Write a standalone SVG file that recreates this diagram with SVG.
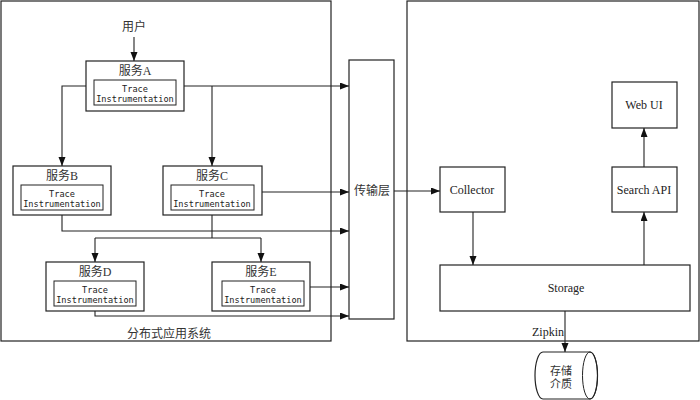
<svg xmlns="http://www.w3.org/2000/svg" width="700" height="400" viewBox="0 0 700 400">
<style>
.box{fill:#fff;stroke:#222;stroke-width:1.2}
.inner{fill:none;stroke:#222;stroke-width:1}
.cn{font-family:"Liberation Serif","Noto Sans CJK SC",serif;font-size:12px;fill:#333;text-anchor:middle}
.en{font-family:"Liberation Serif",serif;font-size:12px;fill:#222;text-anchor:middle}
.mono{font-family:"DejaVu Sans Mono","Liberation Mono",monospace;font-size:8.6px;fill:#222;text-anchor:middle}
.ln{fill:none;stroke:#222;stroke-width:1.1}
</style>
<defs>
<marker id="arr" markerUnits="userSpaceOnUse" markerWidth="10" markerHeight="8" refX="9" refY="3.5" orient="auto">
<path d="M0,0 L9,3.5 L0,7 z" fill="#111"/>
</marker>
</defs>
<rect width="700" height="400" fill="#fff"/>

<g id="distributed-system">
<rect class="box" x="1" y="1" width="330" height="340"/>
<text class="cn" x="169" y="338">分布式应用系统</text>
</g>
<g id="zipkin">
<rect class="box" x="407" y="1" width="292" height="340"/>
</g>

<g id="user"><text class="cn" x="134" y="31">用户</text></g>

<g id="serviceA">
<rect class="box" x="86" y="61" width="98" height="50"/>
<text class="cn" x="135" y="75">服务A</text>
<rect class="inner" x="94" y="80" width="82" height="25"/>
<text class="mono" x="135" y="92">Trace</text>
<text class="mono" x="135" y="102">Instrumentation</text>
</g>
<g id="serviceB">
<rect class="box" x="13" y="166" width="98" height="49"/>
<text class="cn" x="62" y="180">服务B</text>
<rect class="inner" x="21" y="185" width="82" height="25"/>
<text class="mono" x="62" y="197">Trace</text>
<text class="mono" x="62" y="207">Instrumentation</text>
</g>
<g id="serviceC">
<rect class="box" x="163" y="166" width="99" height="49"/>
<text class="cn" x="212" y="180">服务C</text>
<rect class="inner" x="171" y="185" width="83" height="25"/>
<text class="mono" x="212" y="197">Trace</text>
<text class="mono" x="212" y="207">Instrumentation</text>
</g>
<g id="serviceD">
<rect class="box" x="46" y="262" width="98" height="49"/>
<text class="cn" x="95" y="276">服务D</text>
<rect class="inner" x="54" y="281" width="82" height="25"/>
<text class="mono" x="95" y="293">Trace</text>
<text class="mono" x="95" y="303">Instrumentation</text>
</g>
<g id="serviceE">
<rect class="box" x="212" y="262" width="98" height="49"/>
<text class="cn" x="261" y="276">服务E</text>
<rect class="inner" x="222" y="281" width="82" height="25"/>
<text class="mono" x="263" y="293">Trace</text>
<text class="mono" x="263" y="303">Instrumentation</text>
</g>

<g id="transport">
<rect class="box" x="349" y="60" width="45" height="259"/>
<text class="cn" x="372" y="195">传输层</text>
</g>
<g id="collector">
<rect class="box" x="440" y="167" width="65" height="45"/>
<text class="en" x="472" y="194">Collector</text>
</g>
<g id="searchapi">
<rect class="box" x="612" y="167" width="65" height="45"/>
<text class="en" x="644" y="194">Search API</text>
</g>
<g id="webui">
<rect class="box" x="612" y="82" width="65" height="46"/>
<text class="en" x="644" y="109">Web UI</text>
</g>
<g id="storage">
<rect class="box" x="440" y="265" width="250" height="46"/>
<text class="en" x="566" y="292">Storage</text>
</g>
<g id="medium">
<path class="box" d="M543,352 L590,352 A7.5,23.5 0 0 1 590,399 L543,399 A8,23.5 0 0 1 543,352 Z"/>
<ellipse class="inner" cx="590" cy="375.5" rx="7.5" ry="23.5"/>
<text class="cn" x="561" y="375" style="font-size:11px">存储</text>
<text class="cn" x="561" y="388" style="font-size:11px">介质</text>
</g>

<g id="connectors">
<line class="ln" x1="134" y1="37" x2="134" y2="61" marker-end="url(#arr)"/>
<polyline class="ln" points="86,86 62,86 62,166" marker-end="url(#arr)"/>
<line class="ln" x1="184" y1="86" x2="349" y2="86" marker-end="url(#arr)"/>
<line class="ln" x1="212" y1="86" x2="212" y2="166" marker-end="url(#arr)"/>
<line class="ln" x1="262" y1="192" x2="349" y2="192" marker-end="url(#arr)"/>
<polyline class="ln" points="62,215 62,231 349,231" marker-end="url(#arr)"/>
<line class="ln" x1="212" y1="215" x2="212" y2="238"/>
<line class="ln" x1="95" y1="238" x2="261" y2="238"/>
<line class="ln" x1="95" y1="238" x2="95" y2="262" marker-end="url(#arr)"/>
<line class="ln" x1="261" y1="238" x2="261" y2="262" marker-end="url(#arr)"/>
<line class="ln" x1="310" y1="287" x2="349" y2="287" marker-end="url(#arr)"/>
<polyline class="ln" points="95,311 95,316 349,316" marker-end="url(#arr)"/>
<line class="ln" x1="394" y1="191" x2="440" y2="191" marker-end="url(#arr)"/>
<line class="ln" x1="473" y1="212" x2="473" y2="265" marker-end="url(#arr)"/>
<line class="ln" x1="644" y1="265" x2="644" y2="212" marker-end="url(#arr)"/>
<line class="ln" x1="644" y1="167" x2="644" y2="128" marker-end="url(#arr)"/>
<line class="ln" x1="565" y1="311" x2="565" y2="352" marker-end="url(#arr)"/>
<text class="en" x="548" y="336">Zipkin</text>
</g>
</svg>
